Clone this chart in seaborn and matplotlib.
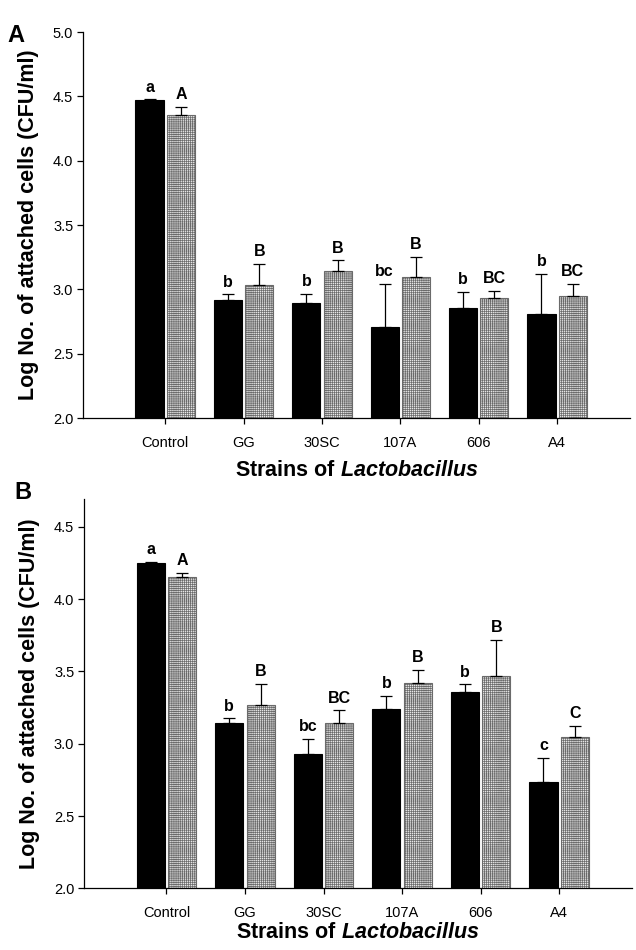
import numpy as np
import pandas as pd
import matplotlib
matplotlib.use("Agg")
import matplotlib.pyplot as plt
import seaborn as sns

# ---------------- data ----------------
strains = ["Control", "GG", "30SC", "107A", "606", "A4"]
series = ["S1", "S2"]

a_black = [4.47, 2.92, 2.89, 2.705, 2.855, 2.81]
a_black_err = [0.006, 0.04, 0.075, 0.335, 0.125, 0.31]
a_gray = [4.355, 3.035, 3.145, 3.095, 2.935, 2.95]
a_gray_err = [0.065, 0.165, 0.08, 0.155, 0.055, 0.09]
a_black_let = ["a", "b", "b", "bc", "b", "b"]
a_gray_let = ["A", "B", "B", "B", "BC", "BC"]

b_black = [4.25, 3.145, 2.93, 3.24, 3.36, 2.735]
b_black_err = [0.006, 0.03, 0.105, 0.09, 0.05, 0.165]
b_gray = [4.15, 3.265, 3.145, 3.42, 3.465, 3.045]
b_gray_err = [0.03, 0.15, 0.085, 0.09, 0.25, 0.08]
b_black_let = ["a", "b", "bc", "b", "b", "c"]
b_gray_let = ["A", "B", "BC", "B", "B", "C"]

a_yticks = [2.0, 2.5, 3.0, 3.5, 4.0, 4.5, 5.0]
b_yticks = [2.0, 2.5, 3.0, 3.5, 4.0, 4.5]

# ---------------- style ----------------
sns.set_style("ticks")
plt.rcParams["font.family"] = ["Liberation Sans", "DejaVu Sans"]
plt.rcParams["mathtext.fontset"] = "custom"
plt.rcParams["mathtext.bfit"] = "Liberation Sans:italic:bold"
plt.rcParams["mathtext.bf"] = "Liberation Sans:bold"
plt.rcParams["mathtext.rm"] = "Liberation Sans"
plt.rcParams["hatch.linewidth"] = 0.5
for key in ["text.color", "axes.labelcolor", "xtick.color", "ytick.color",
            "axes.edgecolor"]:
    plt.rcParams[key] = "#000000"

fig = plt.figure(figsize=(6.36, 9.5), dpi=100)
axA = fig.add_axes([0.1305, 0.560, 0.860, 0.4063])
axB = fig.add_axes([0.1320, 0.0649, 0.862, 0.4095])


def panel(ax, black, black_err, gray, gray_err, blet, glet, ylim, yticks,
          xlabelpad):
    df = pd.DataFrame({
        "strain": strains * 2,
        "series": [series[0]] * len(strains) + [series[1]] * len(strains),
        "value": list(black) + list(gray),
    })
    sns.barplot(data=df, x="strain", y="value", hue="series", order=strains,
                hue_order=series, palette=["#000000", "#d8d8d8"],
                width=0.8, gap=0.1, errorbar=None, legend=False, ax=ax,
                saturation=1)
    patches = sorted([p for p in ax.patches if p.get_height() > 0],
                     key=lambda p: p.get_x())
    vals, errs, lets = [], [], []
    for i in range(len(strains)):
        vals += [black[i], gray[i]]
        errs += [black_err[i], gray_err[i]]
        lets += [blet[i], glet[i]]
    for k, p in enumerate(patches):
        p.set_y(ylim[0])
        p.set_height(vals[k] - ylim[0])
        if k % 2 == 0:
            p.set_facecolor("#000000")
            p.set_edgecolor("#000000")
            p.set_linewidth(0.8)
        else:
            p.set_facecolor("#e6e6e6")
            p.set_edgecolor("#6a6a6a")
            p.set_hatch("++++++++")
            p.set_linewidth(0.8)
        xc = p.get_x() + p.get_width() / 2
        ax.errorbar(xc, vals[k], yerr=[[0], [errs[k]]], fmt="none",
                    ecolor="#000000", elinewidth=0.9, capsize=4,
                    capthick=0.9, zorder=3)
        ax.annotate(lets[k], xy=(xc, vals[k] + errs[k]), xytext=(0, 3.5),
                    textcoords="offset points", ha="center", va="bottom",
                    fontsize=11.5, fontweight="bold", color="#000000")
    ax.set_ylim(*ylim)
    ax.set_yticks(yticks)
    ax.set_yticklabels([f"{t:.1f}" for t in yticks])
    ax.set_xlim(-1.05, 5.93)
    sns.despine(ax=ax)
    for s in ["left", "bottom"]:
        ax.spines[s].set_linewidth(0.9)
        ax.spines[s].set_color("#000000")
    ax.tick_params(axis="x", length=4, width=0.9, pad=9, labelsize=10.5,
                   colors="#000000")
    ax.tick_params(axis="y", length=4, width=0.9, pad=3, labelsize=10.5,
                   colors="#000000")
    ax.set_ylabel("Log No. of attached cells (CFU/ml)", fontsize=15.5,
                  fontweight="bold", labelpad=10, color="#000000")
    ax.set_xlabel(r"Strains of $\mathbfit{Lactobacillus}$", fontsize=15.5,
                  fontweight="bold", labelpad=xlabelpad, color="#000000")


panel(axA, a_black, a_black_err, a_gray, a_gray_err, a_black_let, a_gray_let,
      (2.0, 5.0), a_yticks, 7)
panel(axB, b_black, b_black_err, b_gray, b_gray_err, b_black_let, b_gray_let,
      (2.0, 4.69), b_yticks, 1)

fig.text(0.012, 0.963, "A", fontsize=17, fontweight="bold", ha="left",
         va="center", color="#000000")
fig.text(0.022, 0.482, "B", fontsize=17, fontweight="bold", ha="left",
         va="center", color="#000000")

fig.savefig("out.png", dpi=100, facecolor="white")
